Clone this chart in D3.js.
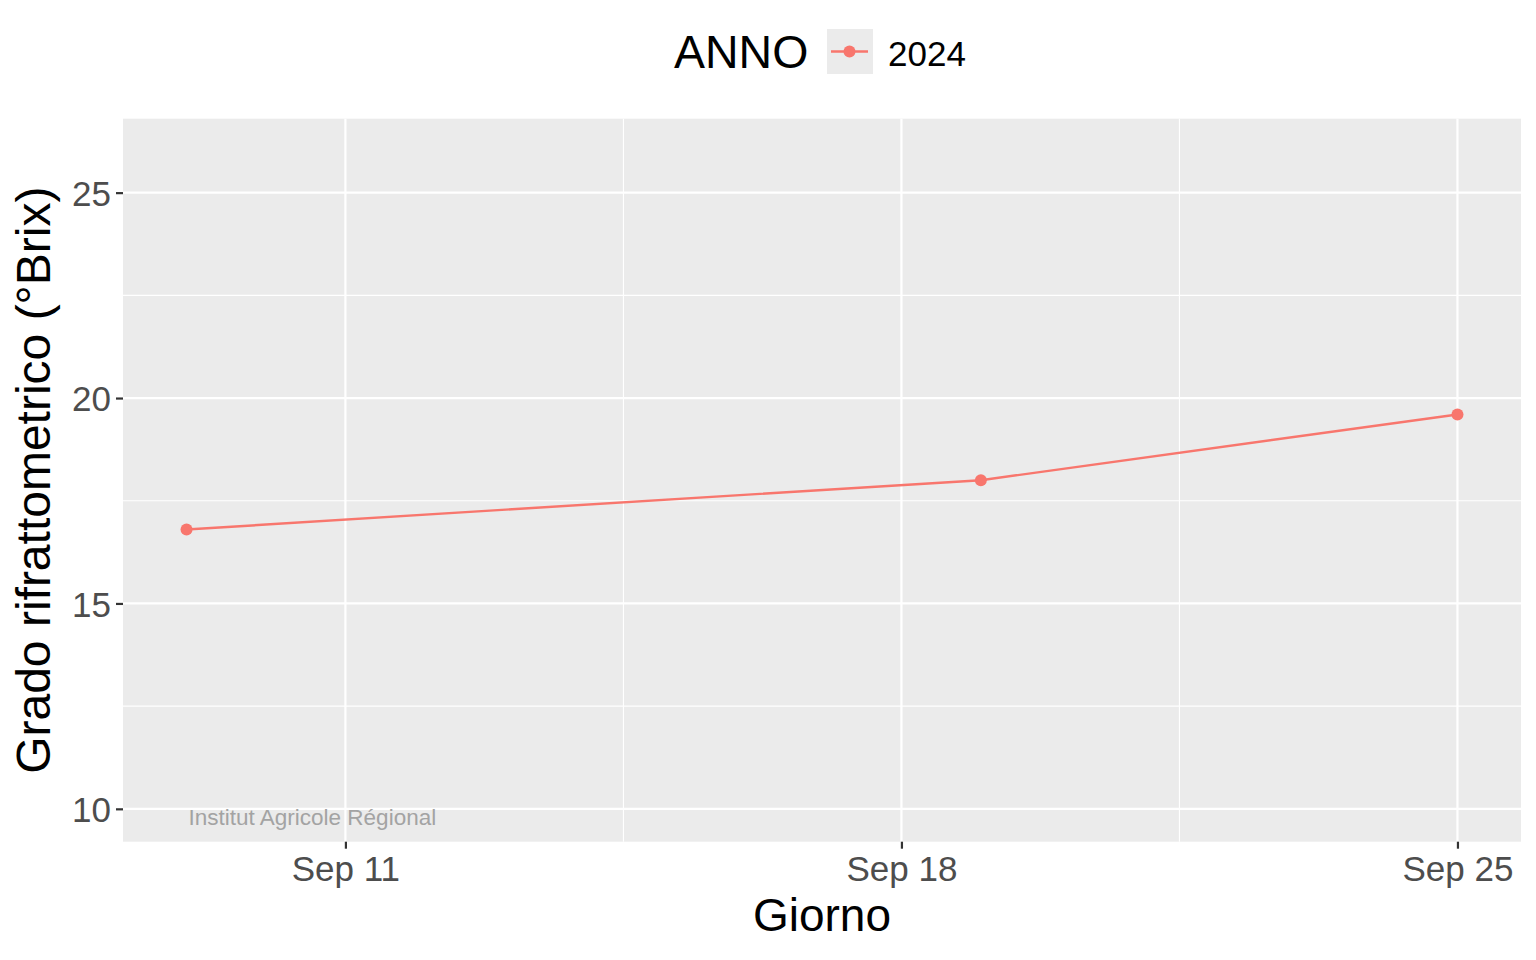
<!DOCTYPE html>
<html>
<head>
<meta charset="utf-8">
<script src="https://cdn.jsdelivr.net/npm/d3@7"></script>
<style>
  html, body { margin: 0; padding: 0; background: #fff; }
  svg { display: block; font-family: "Liberation Sans", Arial, Helvetica, sans-serif; }
</style>
</head>
<body>
<svg id="chart" width="1536" height="960"></svg>
<script>
// ---- data ----
const dates = ["2024-09-09", "2024-09-19", "2024-09-25"];
const brix = [16.8, 18.0, 19.6];
const seriesName = "2024";
const yLimits = [10, 26];
const yTicks = [10, 15, 20, 25];
const yMinorTicks = [12.5, 17.5, 22.5];
const xTickDates = ["2024-09-11", "2024-09-18", "2024-09-25"];
const xMinorDates = ["2024-09-14T12:00:00Z", "2024-09-21T12:00:00Z"];
const xTitle = "Giorno";
const yTitle = "Grado rifrattometrico (°Brix)";
const legendTitle = "ANNO";
const watermark = "Institut Agricole Régional";

// ---- layout ----
const svg = d3.select("#chart");
const panel = { left: 123, right: 1521, top: 118.7, bottom: 841.7 };
const col = "#F8766D";

const parse = s => new Date(s.length === 10 ? s + "T00:00:00Z" : s);
const data = dates.map((d, i) => ({ date: parse(d), value: brix[i] }));

const xExt = d3.extent(data, d => d.date.getTime());
const xPad = (xExt[1] - xExt[0]) * 0.05;
const x = d3.scaleUtc()
  .domain([new Date(xExt[0] - xPad), new Date(xExt[1] + xPad)])
  .range([panel.left, panel.right]);

const yPad = (yLimits[1] - yLimits[0]) * 0.05;
const y = d3.scaleLinear()
  .domain([yLimits[0] - yPad, yLimits[1] + yPad])
  .range([panel.bottom, panel.top]);

// panel background
svg.append("rect")
  .attr("x", panel.left).attr("y", panel.top)
  .attr("width", panel.right - panel.left).attr("height", panel.bottom - panel.top)
  .attr("fill", "#EBEBEB");

const grid = svg.append("g");
// minor gridlines
grid.selectAll(".ymin").data(yMinorTicks).join("line")
  .attr("x1", panel.left).attr("x2", panel.right)
  .attr("y1", d => y(d)).attr("y2", d => y(d))
  .attr("stroke", "#fff").attr("stroke-width", 1.1);
grid.selectAll(".xmin").data(xMinorDates.map(parse)).join("line")
  .attr("y1", panel.top).attr("y2", panel.bottom)
  .attr("x1", d => x(d)).attr("x2", d => x(d))
  .attr("stroke", "#fff").attr("stroke-width", 1.1);
// major gridlines
grid.selectAll(".ymaj").data(yTicks).join("line")
  .attr("x1", panel.left).attr("x2", panel.right)
  .attr("y1", d => y(d)).attr("y2", d => y(d))
  .attr("stroke", "#fff").attr("stroke-width", 2.2);
grid.selectAll(".xmaj").data(xTickDates.map(parse)).join("line")
  .attr("y1", panel.top).attr("y2", panel.bottom)
  .attr("x1", d => x(d)).attr("x2", d => x(d))
  .attr("stroke", "#fff").attr("stroke-width", 2.2);

// axes
const fmt = d3.utcFormat("%b %d");
const xAxis = d3.axisBottom(x)
  .tickValues(xTickDates.map(parse))
  .tickFormat(d => fmt(d))
  .tickSizeInner(7).tickSizeOuter(0).tickPadding(5);
const gx = svg.append("g").attr("transform", `translate(0,${panel.bottom})`).call(xAxis);
gx.select(".domain").remove();
gx.selectAll(".tick line").attr("stroke", "#333").attr("stroke-width", 2.2);
gx.selectAll(".tick text").attr("fill", "#4D4D4D").attr("font-size", 35)
  .attr("font-family", "Liberation Sans, Arial, sans-serif").attr("dy", "0.77em");

const yAxis = d3.axisLeft(y).tickValues(yTicks).tickFormat(d3.format("d"))
  .tickSizeInner(7).tickSizeOuter(0).tickPadding(5);
const gy = svg.append("g").attr("transform", `translate(${panel.left},0)`).call(yAxis);
gy.select(".domain").remove();
gy.selectAll(".tick line").attr("stroke", "#333").attr("stroke-width", 2.2);
gy.selectAll(".tick text").attr("fill", "#4D4D4D").attr("font-size", 35)
  .attr("font-family", "Liberation Sans, Arial, sans-serif").attr("dy", "0.36em");

// watermark
svg.append("text")
  .attr("x", x(data[0].date) + 2)
  .attr("y", y(9.6))
  .attr("fill", "#A3A3A3")
  .attr("font-size", 22.5)
  .text(watermark);

// line + points
svg.append("path").datum(data)
  .attr("d", d3.line().x(d => x(d.date)).y(d => y(d.value)))
  .attr("fill", "none").attr("stroke", col).attr("stroke-width", 2.4);
svg.selectAll(".pt").data(data).join("circle")
  .attr("cx", d => x(d.date)).attr("cy", d => y(d.value))
  .attr("r", 6).attr("fill", col);

// axis titles
svg.append("text")
  .attr("x", (panel.left + panel.right) / 2).attr("y", 931)
  .attr("text-anchor", "middle").attr("font-size", 46).attr("fill", "#000")
  .text(xTitle);
svg.append("text")
  .attr("transform", `translate(50,${(panel.top + panel.bottom) / 2}) rotate(-90)`)
  .attr("text-anchor", "middle").attr("font-size", 48).attr("fill", "#000")
  .text(yTitle);

// legend
const lg = svg.append("g");
lg.append("text").attr("x", 674).attr("y", 68).attr("font-size", 46.5).attr("fill", "#000").text(legendTitle);
lg.append("rect").attr("x", 827).attr("y", 29).attr("width", 46).attr("height", 45).attr("fill", "#EBEBEB");
lg.append("line").attr("x1", 831).attr("x2", 868).attr("y1", 51.5).attr("y2", 51.5)
  .attr("stroke", col).attr("stroke-width", 2.4);
lg.append("circle").attr("cx", 849.5).attr("cy", 51.5).attr("r", 6).attr("fill", col);
lg.append("text").attr("x", 888).attr("y", 66).attr("font-size", 35).attr("fill", "#000").text(seriesName);
</script>
</body>
</html>
